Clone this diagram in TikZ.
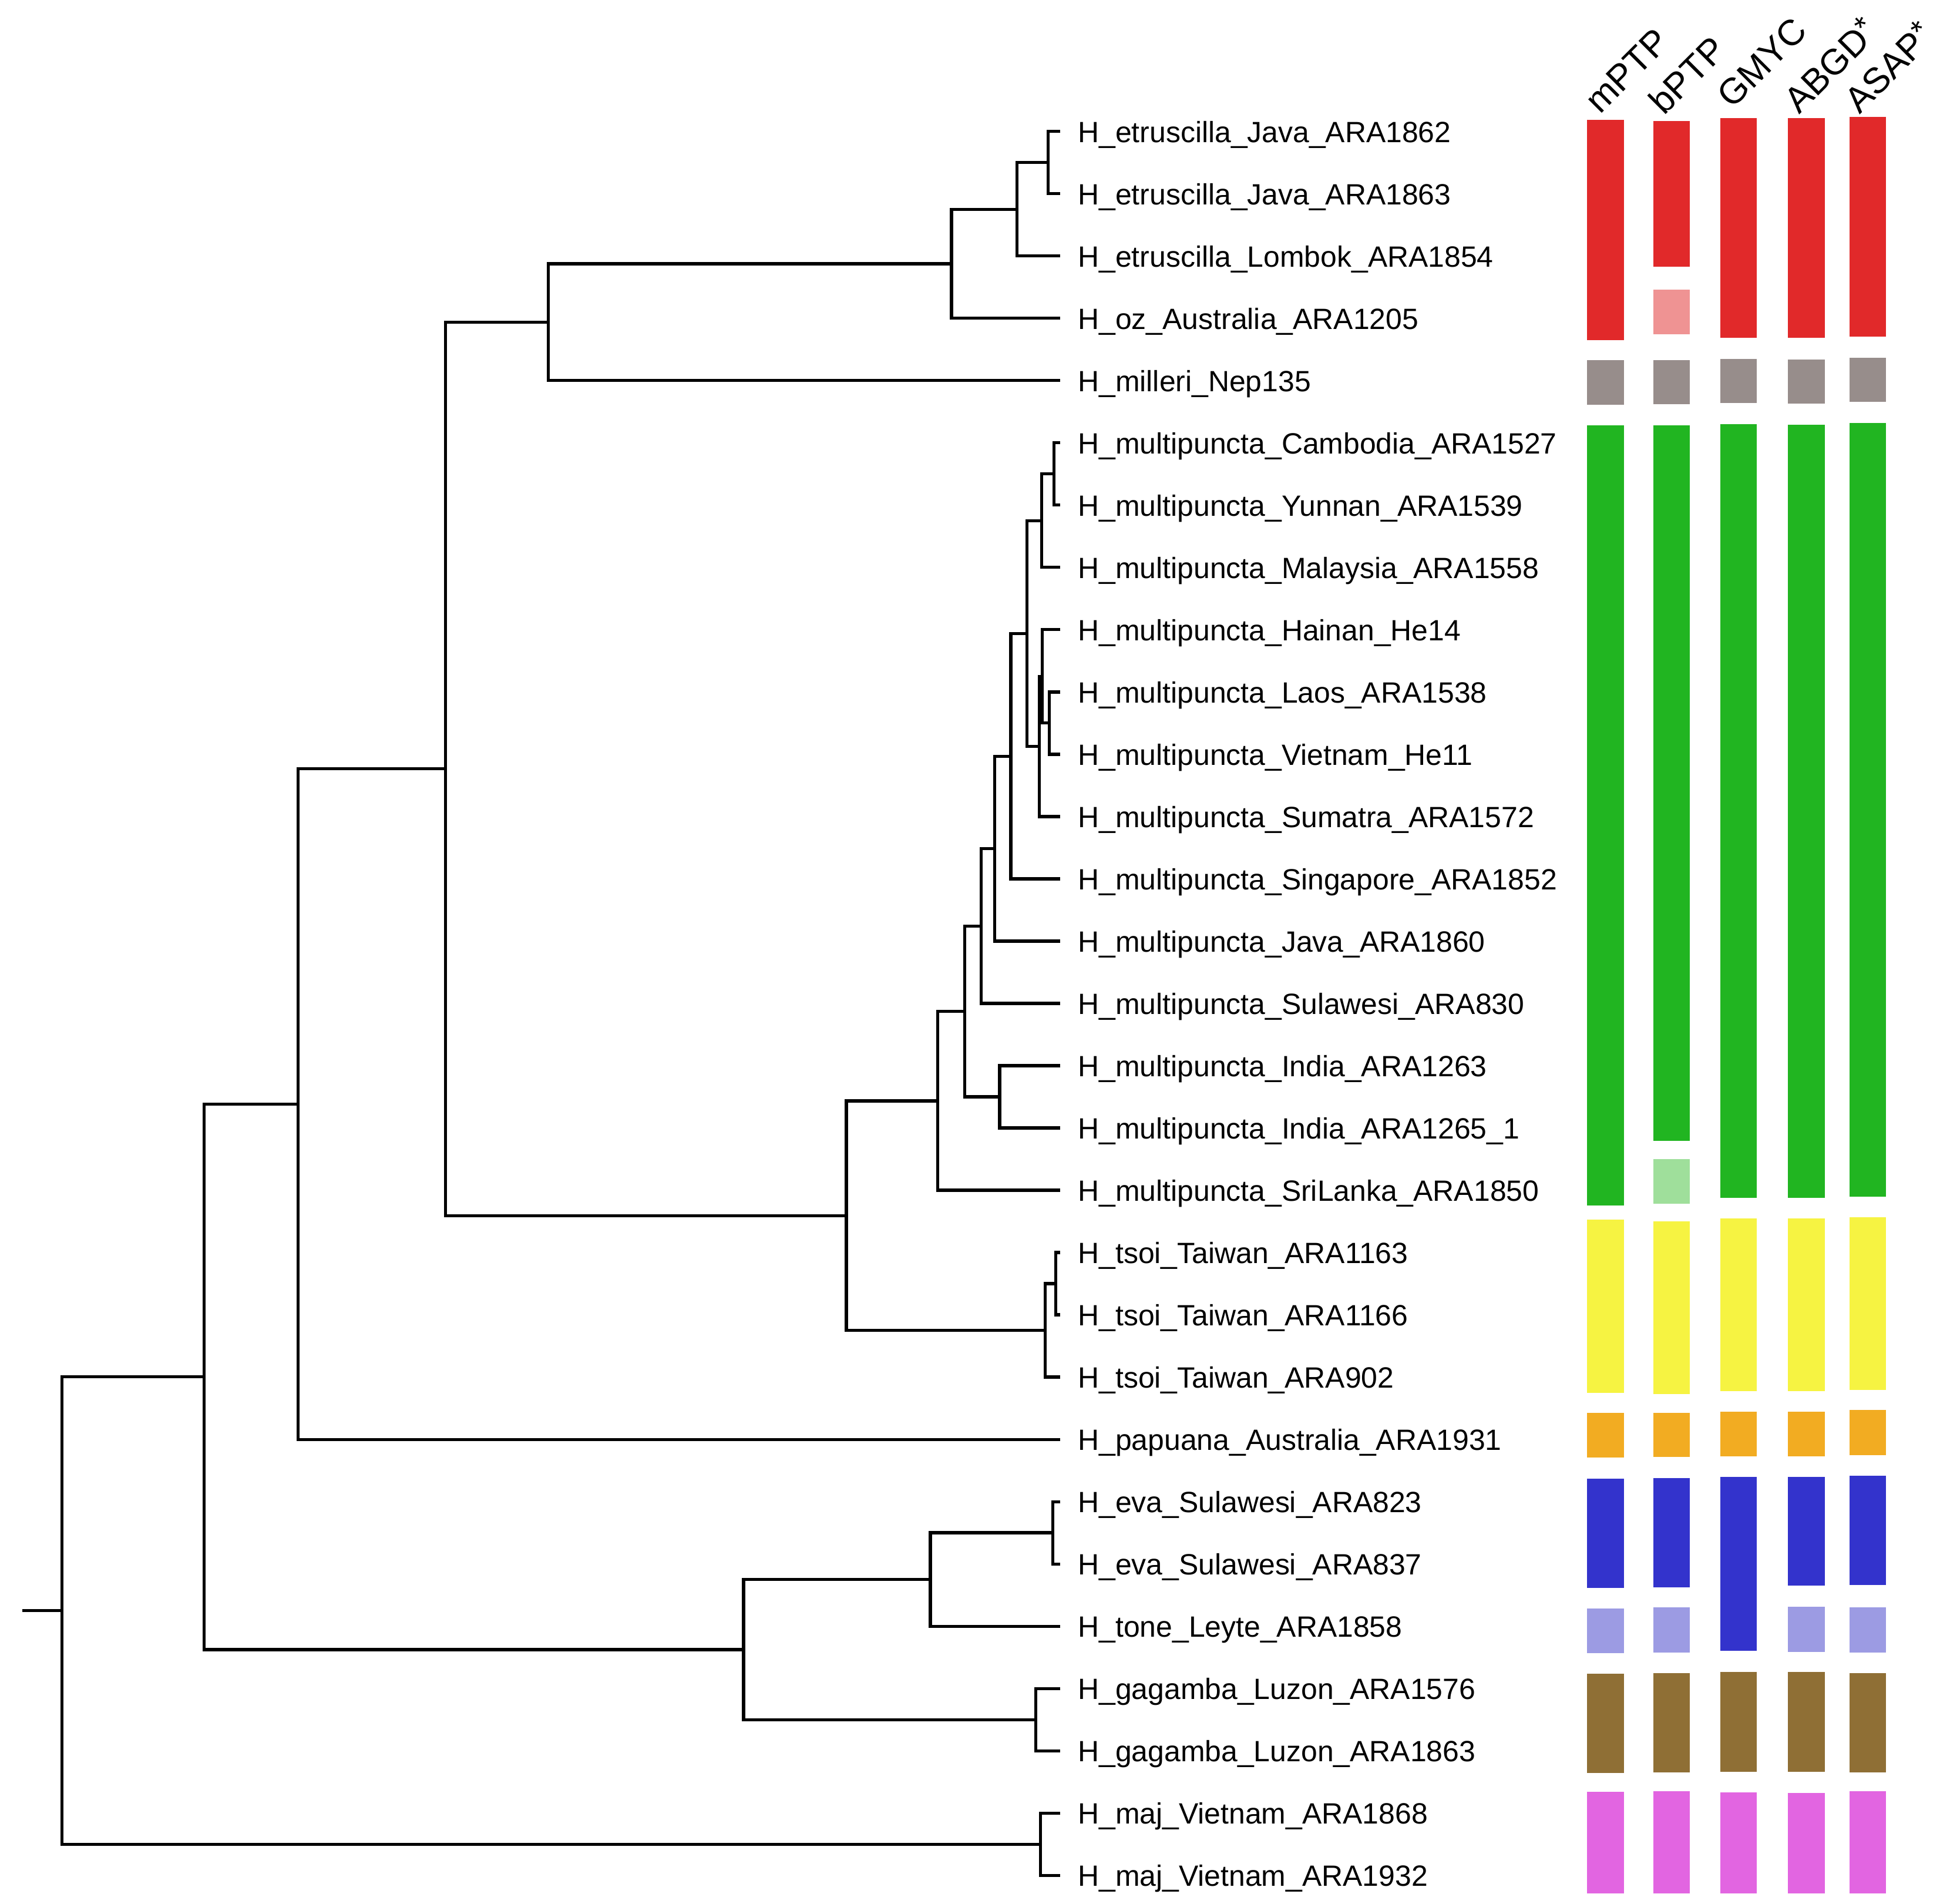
\documentclass[tikz,border=0pt]{standalone}
\usepackage{fontspec}
\setmainfont{Liberation Sans}
\definecolor{cred}{RGB}{225,41,42}
\definecolor{cpink}{RGB}{239,147,147}
\definecolor{cgrey}{RGB}{151,141,139}
\definecolor{cgreen}{RGB}{33,181,33}
\definecolor{clgreen}{RGB}{159,223,155}
\definecolor{cyellow}{RGB}{246,243,66}
\definecolor{corange}{RGB}{242,172,34}
\definecolor{cblue}{RGB}{51,51,204}
\definecolor{clav}{RGB}{156,155,227}
\definecolor{cbrown}{RGB}{143,111,53}
\definecolor{cmag}{RGB}{226,101,225}
\newcommand{\astmark}{\raisebox{0.18em}{\fontsize{15}{18}\selectfont *}}
\begin{document}
\begin{tikzpicture}[x=0.021066cm, y=-0.021066cm,
  lbl/.style={anchor=base west, inner sep=0pt, font=\fontsize{14.2}{17}\selectfont},
  hdr/.style={anchor=base west, inner sep=0pt, rotate=45, font=\fontsize{17.5}{21}\selectfont},
  br/.style={draw=black, line width=1.5pt, line join=miter}]
\useasboundingbox (0,0) rectangle (1568,1538.5);
\begin{scope}[yshift=-0.025cm]
% leaves
\foreach \i/\nm in {
 1/{H\_etruscilla\_Java\_ARA1862},
 2/{H\_etruscilla\_Java\_ARA1863},
 3/{H\_etruscilla\_Lombok\_ARA1854},
 4/{H\_oz\_Australia\_ARA1205},
 5/{H\_milleri\_Nep135},
 6/{H\_multipuncta\_Cambodia\_ARA1527},
 7/{H\_multipuncta\_Yunnan\_ARA1539},
 8/{H\_multipuncta\_Malaysia\_ARA1558},
 9/{H\_multipuncta\_Hainan\_He14},
 10/{H\_multipuncta\_Laos\_ARA1538},
 11/{H\_multipuncta\_Vietnam\_He11},
 12/{H\_multipuncta\_Sumatra\_ARA1572},
 13/{H\_multipuncta\_Singapore\_ARA1852},
 14/{H\_multipuncta\_Java\_ARA1860},
 15/{H\_multipuncta\_Sulawesi\_ARA830},
 16/{H\_multipuncta\_India\_ARA1263},
 17/{H\_multipuncta\_India\_ARA1265\_1},
 18/{H\_multipuncta\_SriLanka\_ARA1850},
 19/{H\_tsoi\_Taiwan\_ARA1163},
 20/{H\_tsoi\_Taiwan\_ARA1166},
 21/{H\_tsoi\_Taiwan\_ARA902},
 22/{H\_papuana\_Australia\_ARA1931},
 23/{H\_eva\_Sulawesi\_ARA823},
 24/{H\_eva\_Sulawesi\_ARA837},
 25/{H\_tone\_Leyte\_ARA1858},
 26/{H\_gagamba\_Luzon\_ARA1576},
 27/{H\_gagamba\_Luzon\_ARA1863},
 28/{H\_maj\_Vietnam\_ARA1868},
 29/{H\_maj\_Vietnam\_ARA1932}}{
  \coordinate (t\i) at (857,{105+(\i-1)*50.33});
  \node[lbl] (L\i) at (871,{113.7+(\i-1)*50.33}) {\nm};
}
% internal nodes
\coordinate (nE1) at (847,130.17);
\coordinate (nE2) at (822,167.9);
\coordinate (nE3) at (769,211.95);
\coordinate (nE4) at (443,259.13);
\coordinate (m1) at (852,381.8);
\coordinate (m2) at (842,419.6);
\coordinate (mE) at (848,583.1);
\coordinate (mD) at (842.5,545.4);
\coordinate (mC) at (840,602.0);
\coordinate (mP) at (830,510.8);
\coordinate (mQ) at (817,609.9);
\coordinate (mR) at (804,684.6);
\coordinate (mS) at (793,747.1);
\coordinate (mI) at (808,885.1);
\coordinate (mT) at (779.6,816.1);
\coordinate (mU) at (758,888.4);
\coordinate (tA) at (853.4,1036.1);
\coordinate (tB) at (844.6,1073.85);
\coordinate (MT) at (684,981.1);
\coordinate (N360) at (360,620.1);
\coordinate (N241) at (241,891.0);
\coordinate (eva) at (851,1237.4);
\coordinate (tone) at (752,1275.2);
\coordinate (gag) at (837,1388.4);
\coordinate (N601) at (601,1331.8);
\coordinate (N165) at (165,1111.4);
\coordinate (maj) at (841,1489.1);
\coordinate (root) at (50,1300.25);
\coordinate (r0) at (18,1300.25);
% branches
\foreach \p/\a/\b in {nE1/t1/t2, nE2/nE1/t3, nE3/nE2/t4, nE4/nE3/t5,
  m1/t6/t7, m2/m1/t8, mE/t10/t11, mD/t9/mE, mC/mD/t12, mP/m2/mC,
  mQ/mP/t13, mR/mQ/t14, mS/mR/t15, mI/t16/t17, mT/mS/mI, mU/mT/t18,
  tA/t19/t20, tB/tA/t21, MT/mU/tB, N360/nE4/MT, N241/N360/t22,
  eva/t23/t24, tone/eva/t25, gag/t26/t27, N601/tone/gag,
  N165/N241/N601, maj/t28/t29, root/N165/maj}{
  \draw[br] (\a) -| (\p) |- (\b);
}
\draw[br] (r0) -- (root);
\end{scope}
% headers
\node[hdr] (h1) at (1293,93) {mPTP};
\node[hdr] (h2) at (1345,94) {bPTP};
\node[hdr] (h3) at (1400,89) {GMYC};
\node[hdr] (h4) at (1454,93) {ABGD\astmark};
\node[hdr] (h5) at (1503,93) {ASAP\astmark};
% bars: mPTP
\def\xa{1282.6}\def\xb{1312.7}
\fill[cred] (\xa,97) rectangle (\xb,274.7);
\fill[cgrey] (\xa,291) rectangle (\xb,327);
\fill[cgreen] (\xa,343.7) rectangle (\xb,974);
\fill[cyellow] (\xa,985.5) rectangle (\xb,1125.4);
\fill[corange] (\xa,1141.9) rectangle (\xb,1177.8);
\fill[cblue] (\xa,1194.8) rectangle (\xb,1283.2);
\fill[clav] (\xa,1299.6) rectangle (\xb,1336);
\fill[cbrown] (\xa,1352.3) rectangle (\xb,1432.8);
\fill[cmag] (\xa,1448.1) rectangle (\xb,1530);
% bPTP
\def\xa{1336.1}\def\xb{1365.7}
\fill[cred] (\xa,98) rectangle (\xb,215.3);
\fill[cpink] (\xa,233.8) rectangle (\xb,270.1);
\fill[cgrey] (\xa,290.9) rectangle (\xb,326.8);
\fill[cgreen] (\xa,343.6) rectangle (\xb,921.9);
\fill[clgreen] (\xa,936.4) rectangle (\xb,972.6);
\fill[cyellow] (\xa,986.9) rectangle (\xb,1126.6);
\fill[corange] (\xa,1141.7) rectangle (\xb,1177.5);
\fill[cblue] (\xa,1194.5) rectangle (\xb,1282.8);
\fill[clav] (\xa,1299) rectangle (\xb,1335.4);
\fill[cbrown] (\xa,1351.9) rectangle (\xb,1432.4);
\fill[cmag] (\xa,1447.5) rectangle (\xb,1530);
% GMYC
\def\xa{1390.4}\def\xb{1420.1}
\fill[cred] (\xa,95.2) rectangle (\xb,273);
\fill[cgrey] (\xa,290) rectangle (\xb,325.8);
\fill[cgreen] (\xa,342.8) rectangle (\xb,967.9);
\fill[cyellow] (\xa,984.5) rectangle (\xb,1124);
\fill[corange] (\xa,1140.5) rectangle (\xb,1177);
\fill[cblue] (\xa,1193.5) rectangle (\xb,1334.1);
\fill[cbrown] (\xa,1351.2) rectangle (\xb,1431.7);
\fill[cmag] (\xa,1448.3) rectangle (\xb,1530);
% ABGD
\def\xa{1445}\def\xb{1474.9}
\fill[cred] (\xa,95.4) rectangle (\xb,273);
\fill[cgrey] (\xa,290.3) rectangle (\xb,325.9);
\fill[cgreen] (\xa,343) rectangle (\xb,968);
\fill[cyellow] (\xa,984.5) rectangle (\xb,1124);
\fill[corange] (\xa,1140.9) rectangle (\xb,1177);
\fill[cblue] (\xa,1193.5) rectangle (\xb,1281.4);
\fill[clav] (\xa,1298.3) rectangle (\xb,1334.8);
\fill[cbrown] (\xa,1351.2) rectangle (\xb,1431.7);
\fill[cmag] (\xa,1448.6) rectangle (\xb,1530);
% ASAP
\def\xa{1494.7}\def\xb{1524.3}
\fill[cred] (\xa,94.5) rectangle (\xb,272.1);
\fill[cgrey] (\xa,289) rectangle (\xb,324.8);
\fill[cgreen] (\xa,341.9) rectangle (\xb,966.8);
\fill[cyellow] (\xa,983.6) rectangle (\xb,1123);
\fill[corange] (\xa,1139.5) rectangle (\xb,1175.8);
\fill[cblue] (\xa,1192.3) rectangle (\xb,1280.8);
\fill[clav] (\xa,1299) rectangle (\xb,1335.4);
\fill[cbrown] (\xa,1351.9) rectangle (\xb,1432.4);
\fill[cmag] (\xa,1447.5) rectangle (\xb,1530);
\end{tikzpicture}
\end{document}
